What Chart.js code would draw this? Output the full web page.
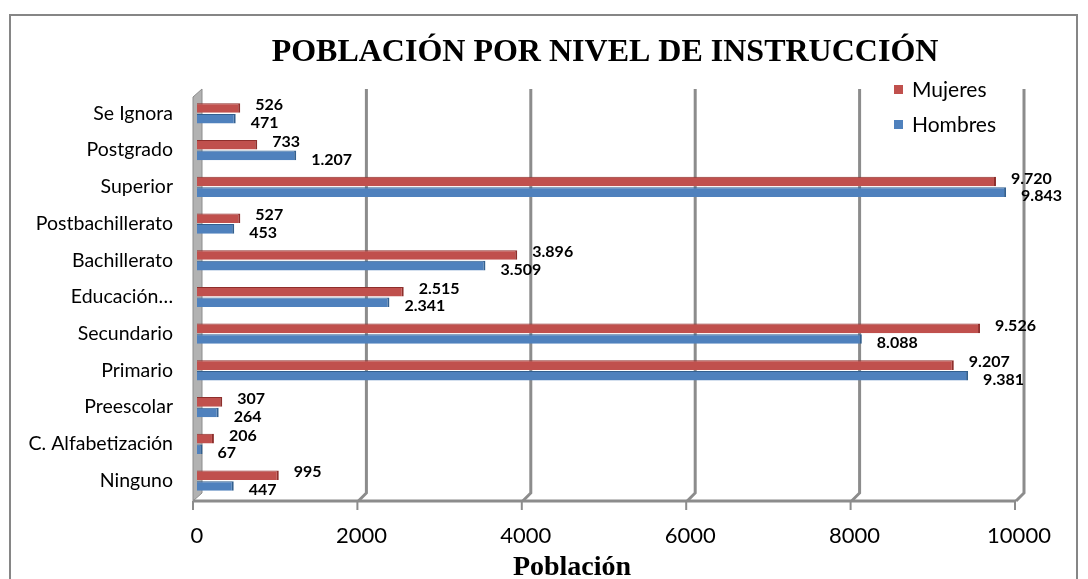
<!DOCTYPE html>
<html>
<head>
<meta charset="utf-8">
<script src="https://cdn.jsdelivr.net/npm/chart.js@4"></script>
<style>
  html, body { margin: 0; padding: 0; background: #fff; }
  #wrap { width: 1088px; height: 579px; position: relative; }
</style>
</head>
<body>
<div id="wrap"><canvas id="chart"></canvas></div>
<script>
// categories, top to bottom as shown
const categories = [
  'Se Ignora', 'Postgrado', 'Superior', 'Postbachillerato', 'Bachillerato',
  'Educación…', 'Secundario', 'Primario', 'Preescolar', 'C. Alfabetización', 'Ninguno',
];
const mujeres = [526, 733, 9720, 527, 3896, 2515, 9526, 9207, 307, 206, 995];
const hombres = [471, 1207, 9843, 453, 3509, 2341, 8088, 9381, 264, 67, 447];
const xTicks  = [0, 2000, 4000, 6000, 8000, 10000];

const RED  = '#C0504D';
const BLUE = '#4F81BD';
const GRID = '#8C8C8C';

// 1234 -> "1.234"
const fmt = v => String(v).replace(/\B(?=(\d{3})+(?!\d))/g, '.');

// frame, back wall, 3D-ish gridlines, floor
const backdrop = {
  id: 'backdrop',
  beforeDatasetsDraw(chart) {
    const { ctx, scales: { x } } = chart;
    const floorY = 501, topY = 89;
    const x0 = x.getPixelForValue(0);
    ctx.save();
    // left wall
    ctx.fillStyle = '#B2B2B2';
    ctx.strokeStyle = '#8C8C8C';
    ctx.lineWidth = 1;
    ctx.beginPath();
    ctx.moveTo(x0 - 4, topY + 8);
    ctx.lineTo(x0 + 5, topY);
    ctx.lineTo(x0 + 5, floorY - 8);
    ctx.lineTo(x0 - 4, floorY);
    ctx.closePath();
    ctx.fill();
    ctx.stroke();
    // gridlines
    ctx.strokeStyle = GRID;
    ctx.lineWidth = 3;
    xTicks.slice(1).forEach(v => {
      const px = x.getPixelForValue(v);
      ctx.beginPath();
      ctx.moveTo(px + 5, topY);
      ctx.lineTo(px + 5, floorY - 8);
      ctx.lineTo(px - 3, floorY);
      ctx.stroke();
    });
    // floor + tick marks
    ctx.beginPath();
    ctx.moveTo(x0 - 4, floorY);
    ctx.lineTo(x.getPixelForValue(10000) - 3, floorY);
    ctx.stroke();
    ctx.lineWidth = 2;
    xTicks.forEach(v => {
      const px = x.getPixelForValue(v) - 4;
      ctx.beginPath();
      ctx.moveTo(px, floorY);
      ctx.lineTo(px, floorY + 9);
      ctx.stroke();
    });
    ctx.restore();
  },
  beforeDraw(chart) {
    const { ctx } = chart;
    ctx.save();
    ctx.strokeStyle = '#868686';
    ctx.lineWidth = 2;
    ctx.strokeRect(10, 15, 1067, 620);
    ctx.restore();
  },
};

// value labels, title, legend, axis title
const overlay = {
  id: 'overlay',
  afterDatasetsDraw(chart) {
    const { ctx } = chart;
    ctx.save();
    ctx.fillStyle = '#000';
    ctx.font = 'bold 16px Lato, "Open Sans", sans-serif';
    ctx.textBaseline = 'middle';
    ctx.textAlign = 'left';
    chart.data.datasets.forEach((ds, di) => {
      chart.getDatasetMeta(di).data.forEach((bar, i) => {
        const dy = di === 0 ? -3 : 4;
        ctx.fillText(fmt(ds.data[i]), bar.x + 15, bar.y + dy);
      });
    });

    // chart title
    ctx.font = 'bold 32px "Liberation Serif", "Times New Roman", serif';
    ctx.textAlign = 'center';
    ctx.textBaseline = 'alphabetic';
    ctx.fillText('POBLACIÓN POR NIVEL DE INSTRUCCIÓN', 605, 61);

    // axis title
    ctx.font = 'bold 28px "Liberation Serif", "Times New Roman", serif';
    ctx.fillText('Población', 572, 575);

    // legend
    ctx.font = '21px Lato, "Open Sans", sans-serif';
    ctx.textAlign = 'left';
    ctx.textBaseline = 'middle';
    [['Mujeres', RED, 90], ['Hombres', BLUE, 125]].forEach(([t, c, y]) => {
      ctx.fillStyle = c;
      ctx.fillRect(894, y - 5, 9, 9);
      ctx.fillStyle = '#000';
      ctx.fillText(t, 912, y);
    });
    ctx.restore();
  },
};

new Chart(document.getElementById('chart'), {
  type: 'bar',
  data: {
    labels: categories,
    datasets: [
      {
        label:           'Mujeres',
        data:            mujeres,
        backgroundColor: RED,
        borderColor:     '#8E2F2C',
        borderWidth:     { top: 1, right: 2, bottom: 0, left: 0 },
        borderSkipped:   false,
      },
      {
        label:           'Hombres',
        data:            hombres,
        backgroundColor: BLUE,
        borderColor:     '#33608F',
        borderWidth:     { top: 1, right: 2, bottom: 0, left: 0 },
        borderSkipped:   false,
      },
    ],
  },
  options: {
    indexAxis:           'y',
    responsive:          true,
    maintainAspectRatio: false,
    animation:           false,
    layout:              { padding: { top: 95, right: 69, bottom: 0, left: 0 } },
    datasets:            { bar: { categoryPercentage: 0.58, barPercentage: 0.9 } },
    plugins: {
      legend:  { display: false },
      title:   { display: false },
      tooltip: { enabled: false },
    },
    scales: {
      x: {
        min: 0,
        max: 10000,
        grid:   { display: false },
        border: { display: false },
        afterBuildTicks: s => { s.ticks = xTicks.map(v => ({ value: v })); },
        afterFit: s => { s.height = 80; },
        ticks: {
          color:    '#000',
          padding:  16,
          callback: v => String(v),
          font:     { family: 'Lato, "Open Sans", sans-serif', size: 22 },
        },
      },
      y: {
        grid:   { display: false },
        border: { display: false },
        afterFit: s => { s.width = 197; },
        ticks: {
          color:   '#000',
          padding: 16,
          font:    { family: 'Lato, "Open Sans", sans-serif', size: 19.5 },
        },
      },
    },
  },
  plugins: [backdrop, overlay],
});
</script>
</body>
</html>
